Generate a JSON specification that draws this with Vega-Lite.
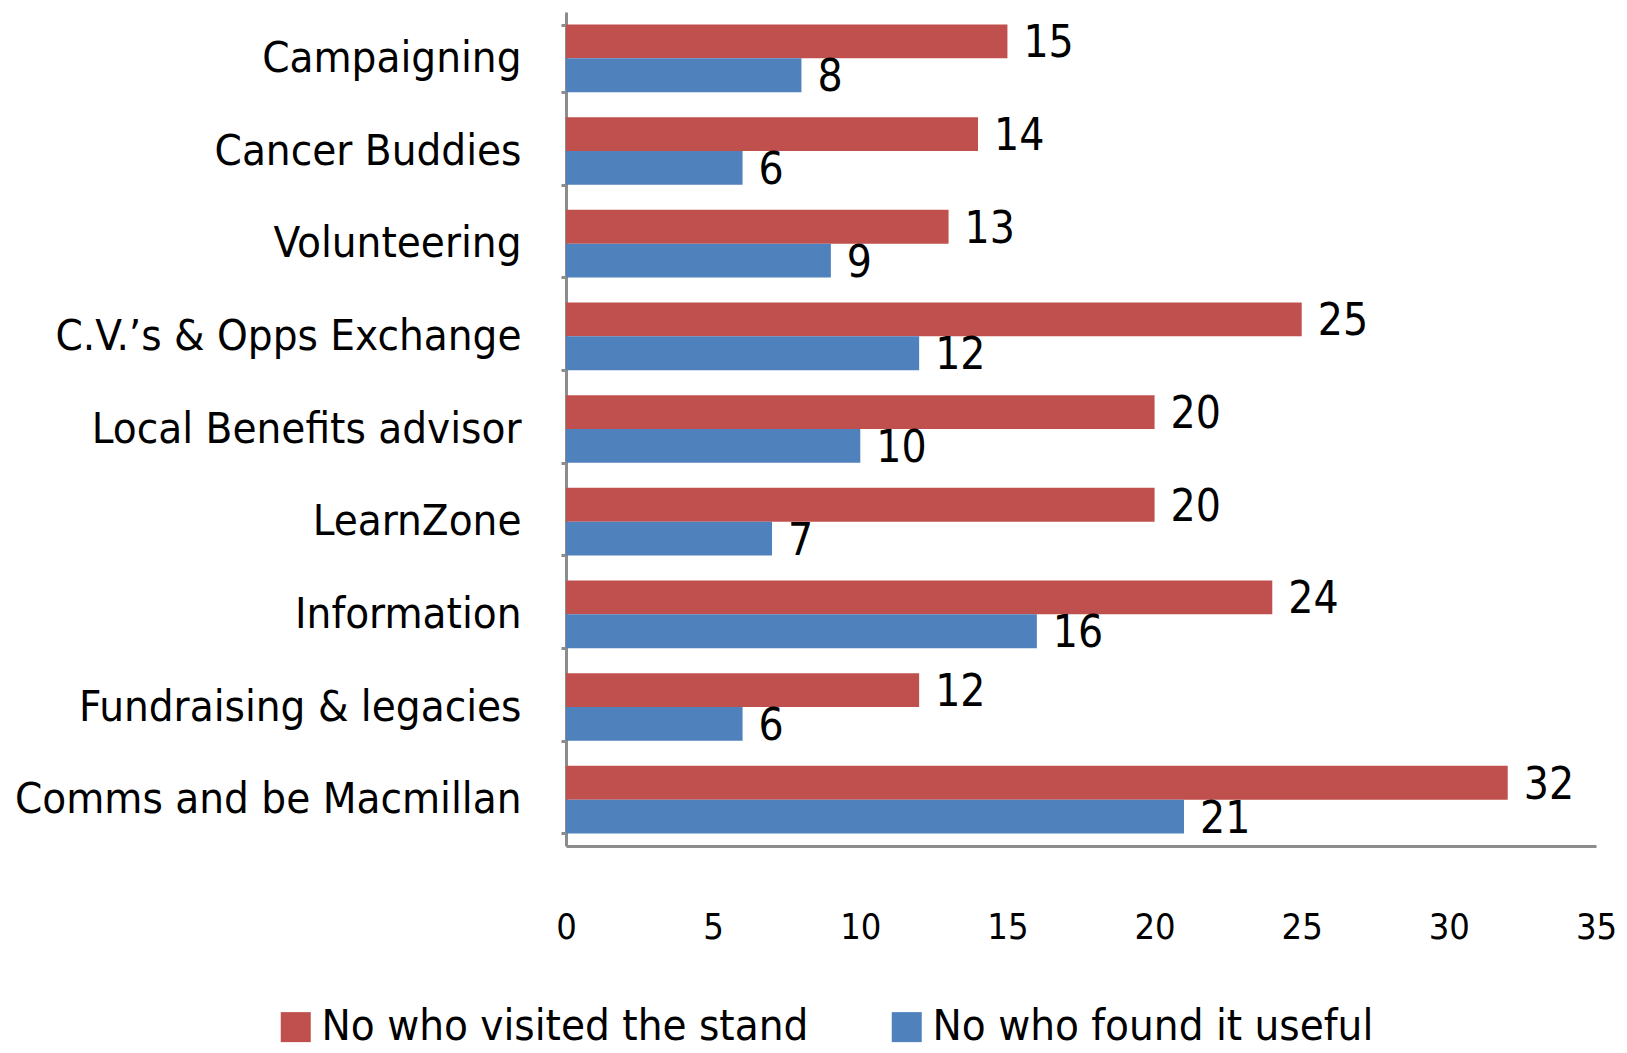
{
  "$schema": "https://vega.github.io/schema/vega-lite/v6.json",
  "autosize": "none",
  "width": 1030,
  "height": 834,
  "padding": {"left": 566, "top": 12, "right": 31, "bottom": 207},
  "background": "white",
  "config": {
    "font": "DejaVu Sans Condensed, Liberation Sans Narrow, Liberation Sans, sans-serif",
    "view": {"stroke": null}
  },
  "data": {
    "values": [
      {"category": "Campaigning", "series": "No who visited the stand", "value": 15},
      {"category": "Campaigning", "series": "No who found it useful", "value": 8},
      {"category": "Cancer Buddies", "series": "No who visited the stand", "value": 14},
      {"category": "Cancer Buddies", "series": "No who found it useful", "value": 6},
      {"category": "Volunteering", "series": "No who visited the stand", "value": 13},
      {"category": "Volunteering", "series": "No who found it useful", "value": 9},
      {"category": "C.V.’s & Opps Exchange", "series": "No who visited the stand", "value": 25},
      {"category": "C.V.’s & Opps Exchange", "series": "No who found it useful", "value": 12},
      {"category": "Local Benefits advisor", "series": "No who visited the stand", "value": 20},
      {"category": "Local Benefits advisor", "series": "No who found it useful", "value": 10},
      {"category": "LearnZone", "series": "No who visited the stand", "value": 20},
      {"category": "LearnZone", "series": "No who found it useful", "value": 7},
      {"category": "Information", "series": "No who visited the stand", "value": 24},
      {"category": "Information", "series": "No who found it useful", "value": 16},
      {"category": "Fundraising & legacies", "series": "No who visited the stand", "value": 12},
      {"category": "Fundraising & legacies", "series": "No who found it useful", "value": 6},
      {"category": "Comms and be Macmillan", "series": "No who visited the stand", "value": 32},
      {"category": "Comms and be Macmillan", "series": "No who found it useful", "value": 21}
    ]
  },
  "encoding": {
    "y": {
      "field": "category",
      "type": "nominal",
      "sort": null,
      "title": null,
      "scale": {"paddingInner": 0.27, "paddingOuter": 0.135},
      "axis": {
        "labelFontSize": 43.5,
        "labelColor": "black",
        "labelPadding": 40,
        "domainColor": "#8c8c8c",
        "domainWidth": 3,
        "tickColor": "#8c8c8c",
        "tickWidth": 3,
        "tickSize": 5,
        "tickBand": "extent",
        "labelLimit": 700
      }
    },
    "yOffset": {
      "field": "series",
      "type": "nominal",
      "sort": ["No who visited the stand", "No who found it useful"],
      "scale": {"paddingInner": 0, "paddingOuter": 0}
    },
    "x": {
      "field": "value",
      "type": "quantitative",
      "title": null,
      "scale": {"domain": [0, 35], "nice": false},
      "axis": {
        "values": [0, 5, 10, 15, 20, 25, 30, 35],
        "grid": false,
        "ticks": false,
        "labelFontSize": 36,
        "labelColor": "black",
        "labelPadding": 64,
        "domainColor": "#8c8c8c",
        "domainWidth": 3,
        "labelFlush": false
      }
    }
  },
  "layer": [
    {
      "mark": {"type": "bar"},
      "encoding": {
        "color": {
          "field": "series",
          "type": "nominal",
          "sort": ["No who visited the stand", "No who found it useful"],
          "scale": {
            "domain": ["No who visited the stand", "No who found it useful"],
            "range": ["#C0504D", "#4F81BD"]
          },
          "legend": {
            "title": null,
            "orient": "none",
            "direction": "horizontal",
            "legendX": -292,
            "legendY": 993,
            "symbolType": "square",
            "symbolSize": 900,
            "symbolStrokeWidth": 0,
            "labelFontSize": 43.5,
            "labelColor": "black",
            "labelOffset": 4,
            "columnPadding": 76,
            "labelLimit": 800
          }
        }
      }
    },
    {
      "mark": {"type": "text", "align": "left", "baseline": "middle", "dx": 16, "dy": 3, "fontSize": 44, "color": "black"},
      "encoding": {
        "text": {"field": "value", "type": "quantitative"}
      }
    }
  ]
}
